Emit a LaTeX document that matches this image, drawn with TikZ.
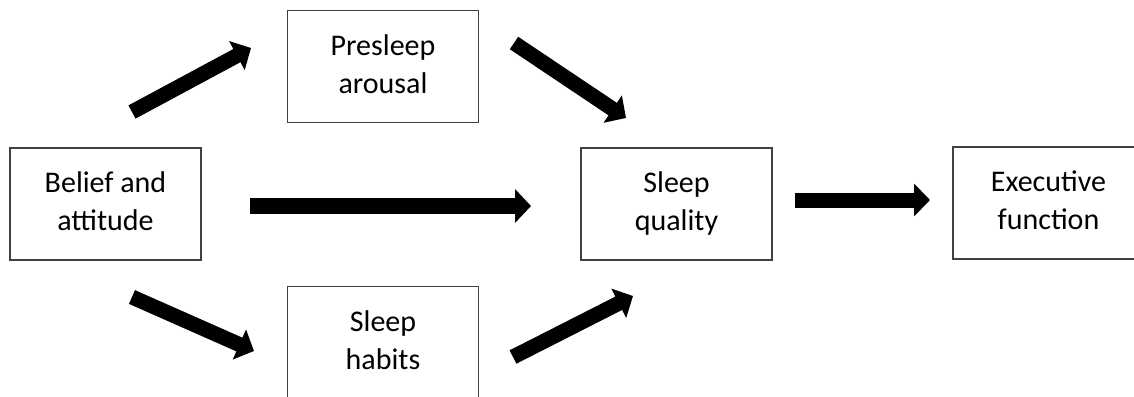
\documentclass[tikz,border=0pt]{standalone}
\usepackage{fontspec}
\setmainfont{Carlito}
\usetikzlibrary{arrows.meta}
\newcommand\boxtext[1]{\raisebox{1.5pt}{\begin{tabular}{@{}c@{}}#1\end{tabular}}}
\begin{document}
\begin{tikzpicture}[x=0.5pt,y=-0.5pt,
  box/.style={draw=black!75,line width=0.75pt,fill=white,minimum width=95.5pt,minimum height=56pt,
    inner sep=0pt,font=\fontsize{15}{19}\selectfont},
  fat/.style={line width=7.5pt,-{Triangle[length=8pt,width=16pt]}},
  fatb/.style={line width=8pt,-{Triangle[length=8pt,width=16.5pt]}}]
\clip (0,0) rectangle (1134,396);
\fill[white] (0,0) rectangle (1134,396);
\node[box] (belief) at (105.5,204) {\boxtext{Belief and\\attitude}};
\node[box] (arousal) at (383,66.5) {\boxtext{Presleep\\arousal}};
\node[box] (habits) at (383,342.5) {\boxtext{Sleep\\habits}};
\node[box] (quality) at (676.5,204) {\boxtext{Sleep\\quality}};
\node[box] (exec) at (1048.5,203) {\boxtext{Executive\\function}};
\coordinate (a1s) at (132,112); \coordinate (a1e) at (251,48);
\coordinate (a2s) at (514,43);  \coordinate (a2e) at (626,118);
\coordinate (a3s) at (250,206); \coordinate (a3e) at (531,206);
\coordinate (a4s) at (132,297); \coordinate (a4e) at (254,351);
\coordinate (a5s) at (513,357); \coordinate (a5e) at (633,296);
\coordinate (a6s) at (795,200); \coordinate (a6e) at (930,200);
\draw[fat] (a1s) -- (a1e);
\draw[fat] (a2s) -- (a2e);
\draw[fatb] (a3s) -- (a3e);
\draw[fat] (a4s) -- (a4e);
\draw[fat] (a5s) -- (a5e);
\draw[fat] (a6s) -- (a6e);
\end{tikzpicture}
\end{document}
